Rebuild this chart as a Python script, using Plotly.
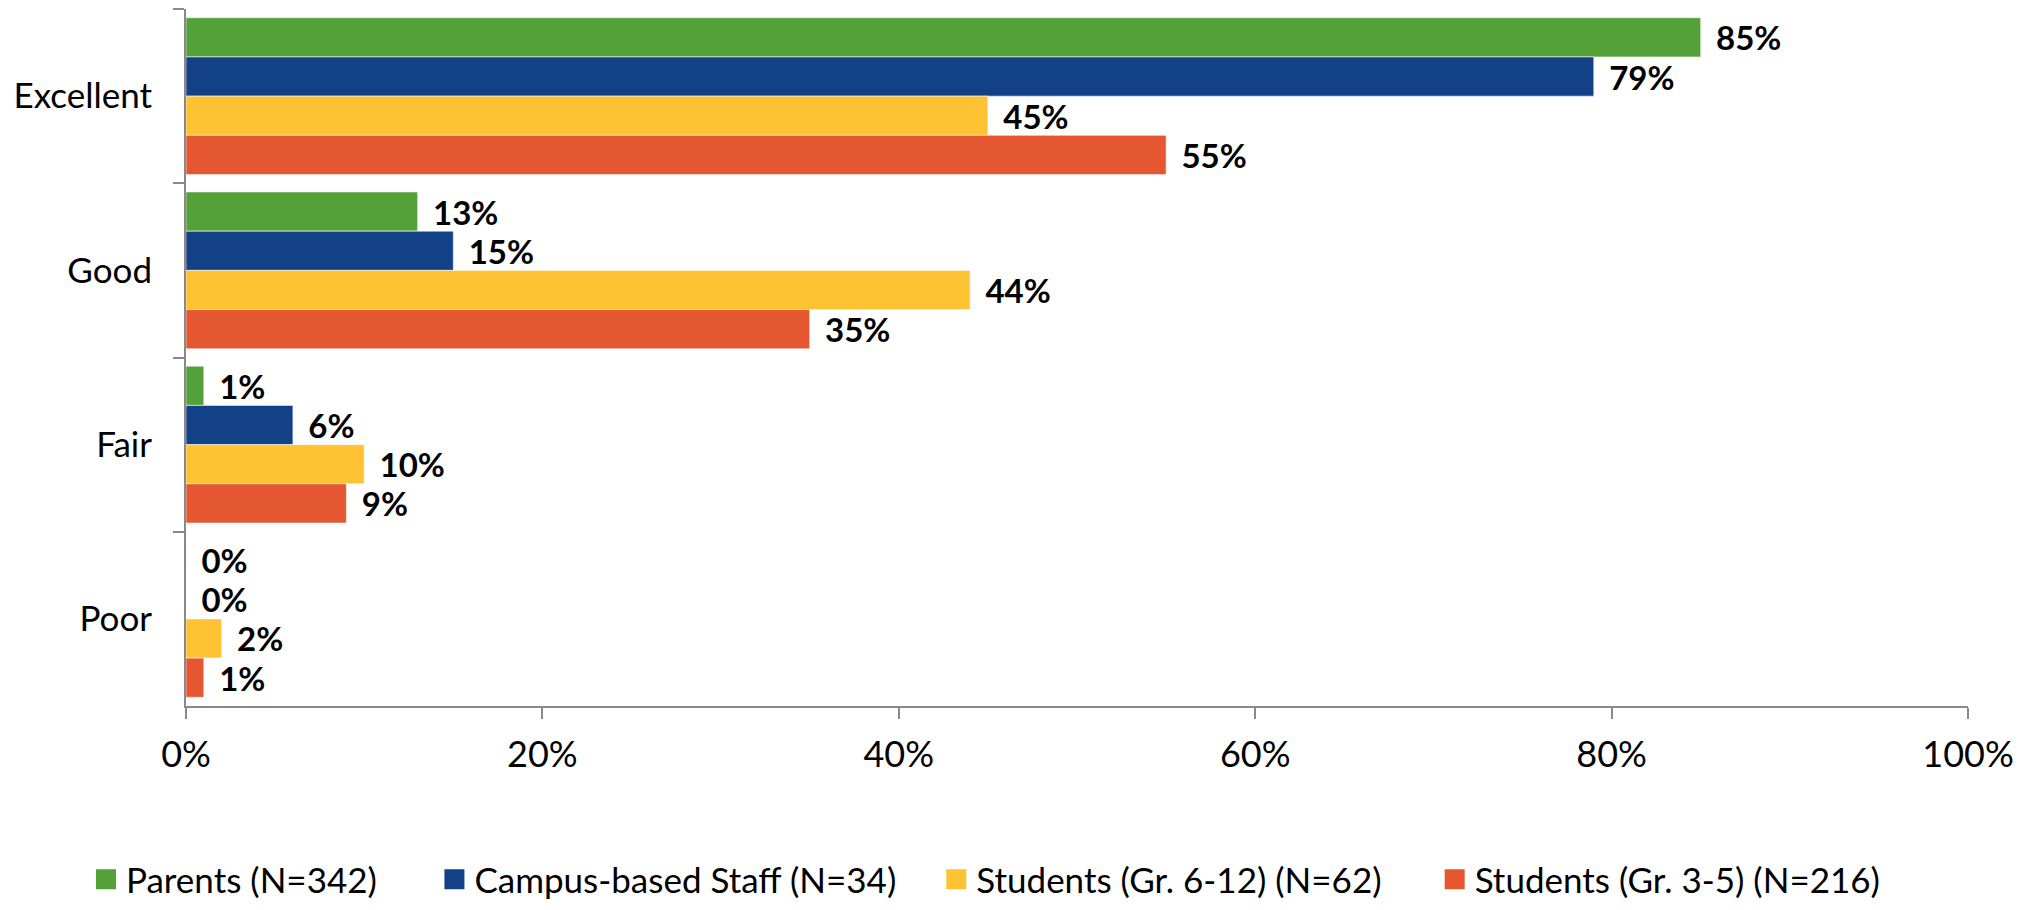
import plotly.graph_objects as go

categories = ["Excellent", "Good", "Fair", "Poor"]
series_names = [
    "Parents (N=342)",
    "Campus-based Staff (N=34)",
    "Students (Gr. 6-12) (N=62)",
    "Students (Gr. 3-5) (N=216)",
]
parents = [85, 13, 1, 0]
staff = [79, 15, 6, 0]
students_6_12 = [45, 44, 10, 2]
students_3_5 = [55, 35, 9, 1]
x_ticks = [0, 20, 40, 60, 80, 100]
x_tick_labels = ["0%", "20%", "40%", "60%", "80%", "100%"]

colors = ["#54A13A", "#124188", "#FFC232", "#E55730"]
values = [parents, staff, students_6_12, students_3_5]

# trailing spacing after each legend label (layout only)
legend_pads = ["\u2003\u2003", "\u2003\u2009\u2009", "\u2003\u2002\u2009", ""]

FONT = "Lato"
W, H = 2020, 902  # page body adds an 8px offset
ML, MR, MT, MB = 178, 60, 1, 204
plot_w = W - ML - MR
plot_h = H - MT - MB

fig = go.Figure()
for name, vals, col in zip(series_names, values, colors):
    fig.add_trace(go.Bar(
        y=categories, x=vals, orientation="h", name=name,
        marker=dict(color=col, line=dict(color="rgba(255,255,255,0.55)", width=1)),
        text=[f"\u2009\u2009\u2009{v}%" for v in vals],
        textposition="outside", textangle=0, constraintext="none",
        cliponaxis=False,
        textfont=dict(family=FONT, size=33, color="black", weight="bold"),
        showlegend=False, hoverinfo="skip",
    ))
for name, col, p in zip(series_names, colors, legend_pads):
    fig.add_trace(go.Scatter(
        x=[None], y=[None], mode="markers", name=name + p,
        marker=dict(symbol="square", size=16, color=col, line=dict(color=col, width=4)),
    ))

fig.update_layout(
    width=W, height=H,
    margin=dict(l=ML, r=MR, t=MT, b=MB),
    paper_bgcolor="white", plot_bgcolor="white",
    barmode="group", bargap=0.1, bargroupgap=0,
    font=dict(family=FONT, size=34, color="black"),
    legend=dict(orientation="h",
                x=(78 - ML) / plot_w, xref="paper", xanchor="left",
                y=-(901 - (MT + plot_h)) / plot_h, yref="paper", yanchor="bottom",
                font=dict(family=FONT, size=35, color="black"),
                tracegroupgap=0),
)
fig.update_xaxes(
    range=[0, 100], tickvals=x_ticks, ticktext=x_tick_labels,
    showgrid=False, zeroline=False,
    showline=True, linecolor="#898989", linewidth=2,
    ticks="outside", ticklen=11, tickwidth=2, tickcolor="#898989",
    ticklabelstandoff=5,
    tickfont=dict(family=FONT, size=36, color="black"),
)
fig.update_yaxes(
    type="category", categoryorder="array", categoryarray=categories,
    autorange="reversed", tickson="boundaries",
    showgrid=False, zeroline=False,
    showline=True, linecolor="#898989", linewidth=2,
    ticks="outside", ticklen=11, tickwidth=2, tickcolor="#898989",
    ticklabelstandoff=25,
    tickfont=dict(family=FONT, size=35, color="black"),
)
fig.write_html("out.html")
